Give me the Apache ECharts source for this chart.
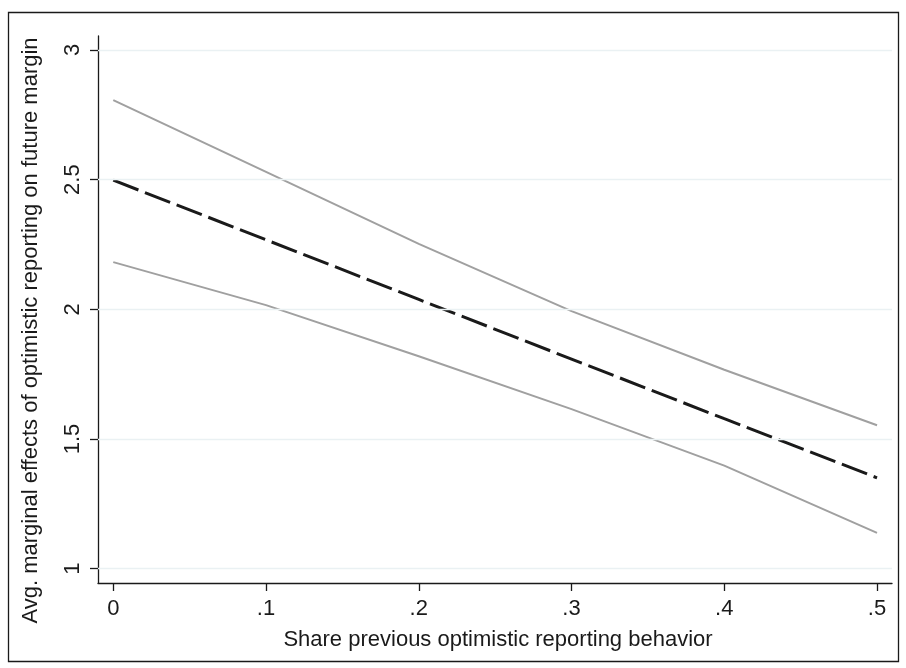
<!DOCTYPE html>
<html>
<head>
<meta charset="utf-8">
<script src="https://cdn.jsdelivr.net/npm/echarts@6/dist/echarts.min.js"></script>
<style>
  html, body { margin: 0; padding: 0; background: #fff; }
  #chart { width: 906px; height: 668px; }
</style>
</head>
<body>
<div id="chart"></div>
<script>
const xValues = [0, 0.1, 0.2, 0.3, 0.4, 0.5];
const upperCI = [2.807, 2.53, 2.252, 1.993, 1.767, 1.553];
const marginalEffect = [2.498, 2.268, 2.038, 1.808, 1.578, 1.35];
const lowerCI = [2.182, 2.016, 1.819, 1.615, 1.397, 1.138];
const xTicks = [0, 0.1, 0.2, 0.3, 0.4, 0.5];
const yTicks = [1, 1.5, 2, 2.5, 3];

const font = "'Liberation Sans', Arial, sans-serif";
const ink = "#1a1a1a";

const pairs = arr => xValues.map((x, i) => [x, arr[i]]);
const xLabel = v => v === 0 ? "0" : String(+v.toFixed(1)).replace(/^0/, "");

const chart = echarts.init(document.getElementById("chart"));

const option = {
  animation: false,
  backgroundColor: "#fff",
  textStyle: { fontFamily: font, color: ink },
  grid: { left: 98, right: 14, top: 36, bottom: 85, containLabel: false },
  graphic: [{
    type: "rect",
    shape: { x: 8.5, y: 12.5, width: 890, height: 649 },
    style: { fill: null, stroke: ink, lineWidth: 1.3 },
    silent: true
  }],
  xAxis: {
    type: "value",
    min: -0.01,
    max: 0.5098,
    name: "Share previous optimistic reporting behavior",
    nameLocation: "middle",
    nameGap: 46,
    nameTextStyle: { fontSize: 22, fontFamily: font, color: ink, padding: [0, 0, 0, 6] },
    axisLine: { show: true, onZero: false, lineStyle: { color: ink, width: 1.3 } },
    axisTick: { show: true, length: 8, customValues: xTicks, lineStyle: { color: ink, width: 1.3 } },
    axisLabel: { customValues: xTicks, formatter: xLabel, fontSize: 22, margin: 15, color: ink, fontFamily: font },
    splitLine: { show: false }
  },
  yAxis: {
    type: "value",
    min: 0.9444,
    max: 3.054,
    name: "Avg. marginal effects of optimistic reporting on future margin",
    nameLocation: "middle",
    nameGap: 56,
    nameRotate: 90,
    nameTextStyle: { fontSize: 22, fontFamily: font, color: ink, padding: [0, 42, 0, 0] },
    axisLine: { show: true, onZero: false, lineStyle: { color: ink, width: 1.3 } },
    axisTick: { show: true, length: 8, customValues: yTicks, lineStyle: { color: ink, width: 1.3 } },
    axisLabel: { customValues: yTicks, rotate: 90, fontSize: 22, margin: 14, color: ink, fontFamily: font,
      formatter: v => String(+v.toFixed(1)) },
    splitLine: { show: false }
  },
  series: [
    {
      type: "line",
      data: pairs(upperCI),
      showSymbol: false,
      lineStyle: { color: "#a0a0a0", width: 2 },
      z: 3,
      markLine: {
        silent: true,
        symbol: "none",
        label: { show: false },
        lineStyle: { color: "#eaf1f3", width: 1.3, type: "solid" },
        data: yTicks.map(v => ({ yAxis: v }))
      }
    },
    {
      type: "line",
      data: pairs(lowerCI),
      showSymbol: false,
      lineStyle: { color: "#a0a0a0", width: 2 },
      z: 3
    },
    {
      type: "line",
      data: pairs(marginalEffect),
      showSymbol: false,
      lineStyle: { color: ink, width: 3, type: [27, 7] },
      z: 4
    }
  ]
};

chart.setOption(option);
</script>
</body>
</html>
